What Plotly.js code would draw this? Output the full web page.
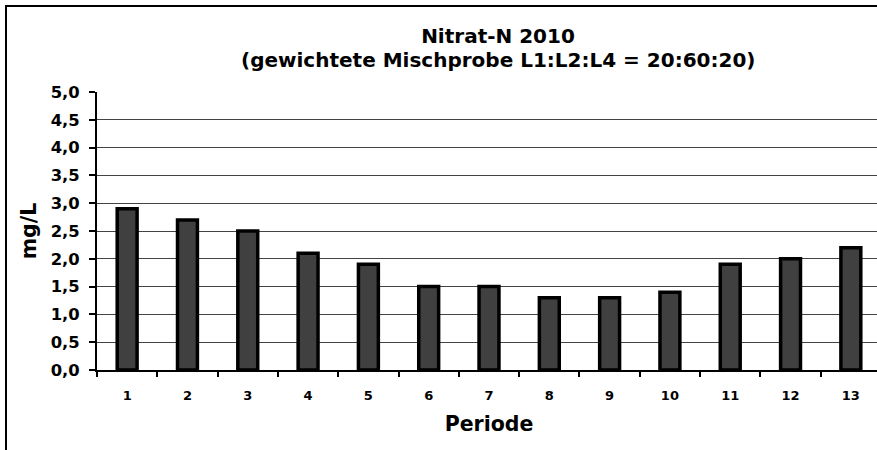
<!DOCTYPE html>
<html>
<head>
<meta charset="utf-8">
<script src="https://cdn.plot.ly/plotly-3.0.1.min.js"></script>
<style>
html,body{margin:0;padding:0;overflow:hidden;background:#fff;width:877px;height:450px;}
#frame{position:absolute;left:5px;top:5px;width:1000px;height:1000px;border-left:2px solid #000;border-top:2px solid #000;box-sizing:border-box;}
#chart{position:absolute;left:0;top:0;width:890px;height:462px;}
</style>
</head>
<body>
<div id="frame"></div>
<div id="chart"></div>
<script>
const periods = ['1','2','3','4','5','6','7','8','9','10','11','12','13'];
const nitratN = [2.9, 2.7, 2.5, 2.1, 1.9, 1.5, 1.5, 1.3, 1.3, 1.4, 1.9, 2.0, 2.2];
const yTicks = [0,0.5,1,1.5,2,2.5,3,3.5,4,4.5,5];
const titleMain = 'Nitrat-N 2010';
const titleSub = '(gewichtete Mischprobe L1:L2:L4 = 20:60:20)';

const W = 890, H = 462;
const mL = 97, mT = 92, mR = W - 881, mB = H - 370;
const plotW = W - mL - mR, plotH = H - mT - mB;
const font = 'DejaVu Sans, Verdana, sans-serif';
const titleX = (498 - mL) / plotW;

const trace = {
  type: 'bar',
  x: periods,
  y: nitratN,
  width: 0.33,
  marker: {color: '#404040', line: {color: '#000', width: 3.5}},
  hoverinfo: 'x+y'
};

const layout = {
  width: W, height: H,
  margin: {l: mL, r: mR, t: mT, b: mB, pad: 0},
  paper_bgcolor: 'rgba(0,0,0,0)', plot_bgcolor: 'rgba(0,0,0,0)',
  separators: ',.',
  showlegend: false,
  font: {family: font, color: '#000'},
  title: {
    text: titleMain,
    font: {family: font, size: 20, weight: 'bold', color: '#000'},
    x: titleX, xref: 'paper', xanchor: 'center',
    y: 1 - 36 / H, yref: 'container', yanchor: 'middle'
  },
  annotations: [{
    text: titleSub, showarrow: false,
    font: {family: font, size: 20, weight: 'bold', color: '#000'},
    xref: 'paper', yref: 'paper', x: titleX, xanchor: 'center',
    y: 1 + (mT - 60) / plotH, yanchor: 'middle'
  }],
  xaxis: {
    type: 'category',
    tickmode: 'array', tickvals: periods, ticktext: periods,
    tickfont: {family: font, size: 13, weight: 'bold', color: '#000'},
    ticks: 'outside', ticklen: 5, tickwidth: 2, tickcolor: '#000',
    tickson: 'boundaries',
    ticklabelstandoff: 12,
    showline: true, linecolor: '#000', linewidth: 2,
    showgrid: false, zeroline: false,
    range: [-0.5, 12.5],
    title: {text: 'Periode', font: {family: font, size: 20.5, weight: 'bold', color: '#000'}, standoff: 15}
  },
  yaxis: {
    range: [0, 5],
    tickmode: 'array', tickvals: yTicks,
    tickformat: '.1f',
    tickfont: {family: font, size: 16.4, weight: 'bold', color: '#000'},
    ticks: 'outside', ticklen: 6, tickwidth: 2, tickcolor: '#000',
    ticklabelstandoff: 6,
    showline: true, linecolor: '#000', linewidth: 2,
    showgrid: true, gridcolor: '#444', gridwidth: 1,
    zeroline: false,
    title: {text: 'mg/L', font: {family: font, size: 20.5, weight: 'bold', color: '#000'}, standoff: 8}
  }
};

Plotly.newPlot('chart', [trace], layout, {displayModeBar: false, staticPlot: true});
</script>
</body>
</html>
